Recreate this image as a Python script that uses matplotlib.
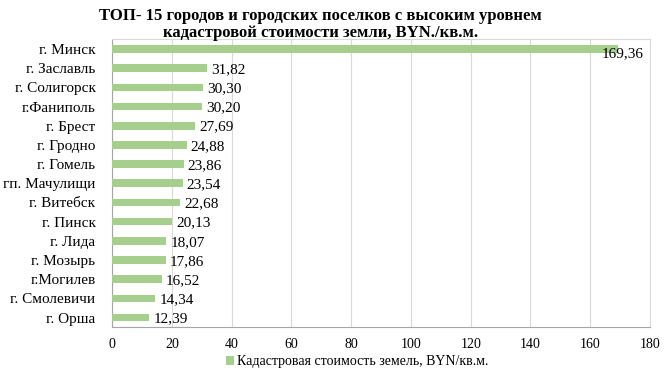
import matplotlib.pyplot as plt
import numpy as np

# Data
cities = ["г. Минск", "г. Заславль", "г. Солигорск", "г.Фаниполь", "г. Брест",
          "г. Гродно", "г. Гомель", "гп. Мачулищи", "г. Витебск", "г. Пинск",
          "г. Лида", "г. Мозырь", "г.Могилев", "г. Смолевичи", "г. Орша"]
values = [169.36, 31.82, 30.30, 30.20, 27.69, 24.88, 23.86, 23.54, 22.68,
          20.13, 18.07, 17.86, 16.52, 14.34, 12.39]
series_name = "Кадастровая стоимость земель, BYN/кв.м."
title_lines = ["ТОП- 15 городов и городских поселков с высоким уровнем",
               "кадастровой стоимости земли, BYN./кв.м."]

plt.rcParams['font.family'] = ['Liberation Serif', 'DejaVu Serif']

bar_color = '#A6CF8E'
grid_color = '#D9D9D9'

fig = plt.figure(figsize=(6.68, 3.76), dpi=100)
ax = fig.add_axes([0.168, 0.13, 0.805, 0.765])

y = np.arange(len(cities))
ax.barh(y, values, height=0.4, color=bar_color, label=series_name, zorder=3)
ax.set_ylim(len(cities) - 0.5, -0.5)
ax.set_xlim(0, 180)
ax.set_xticks(np.arange(0, 181, 20))
ax.set_yticks(y)
ax.set_yticklabels(cities, fontsize=11)

ax.tick_params(axis='y', length=0, pad=12)
ax.tick_params(axis='x', length=0, pad=8, labelsize=10)
ax.grid(True, axis='x', color=grid_color, linewidth=0.8, zorder=0)

for side in ['top', 'right']:
    ax.spines[side].set_color(grid_color)
    ax.spines[side].set_linewidth(0.8)
for side in ['left', 'bottom']:
    ax.spines[side].set_color('#A6A6A6')
    ax.spines[side].set_linewidth(0.8)

# Data labels
for i, v in enumerate(values):
    txt = f"{v:.2f}".replace('.', ',')
    if v > 150:
        ax.annotate(txt, (v, i), xytext=(-12, -3), textcoords='offset points',
                    ha='left', va='center', fontsize=11, zorder=4)
    else:
        ax.annotate(txt, (v, i), xytext=(3, -1), textcoords='offset points',
                    ha='left', va='center', fontsize=11, zorder=4)

# Title
fig.text(0.48, 0.958, title_lines[0], ha='center', va='center',
         fontsize=12, fontweight='bold')
fig.text(0.48, 0.911, title_lines[1], ha='center', va='center',
         fontsize=12, fontweight='bold')

ax.legend(loc='center', bbox_to_anchor=(0.535, 0.038), bbox_transform=fig.transFigure,
          frameon=False, fontsize=10, handlelength=0.6, handleheight=0.6,
          handletextpad=0.2)

fig.savefig("out.png", dpi=100)
